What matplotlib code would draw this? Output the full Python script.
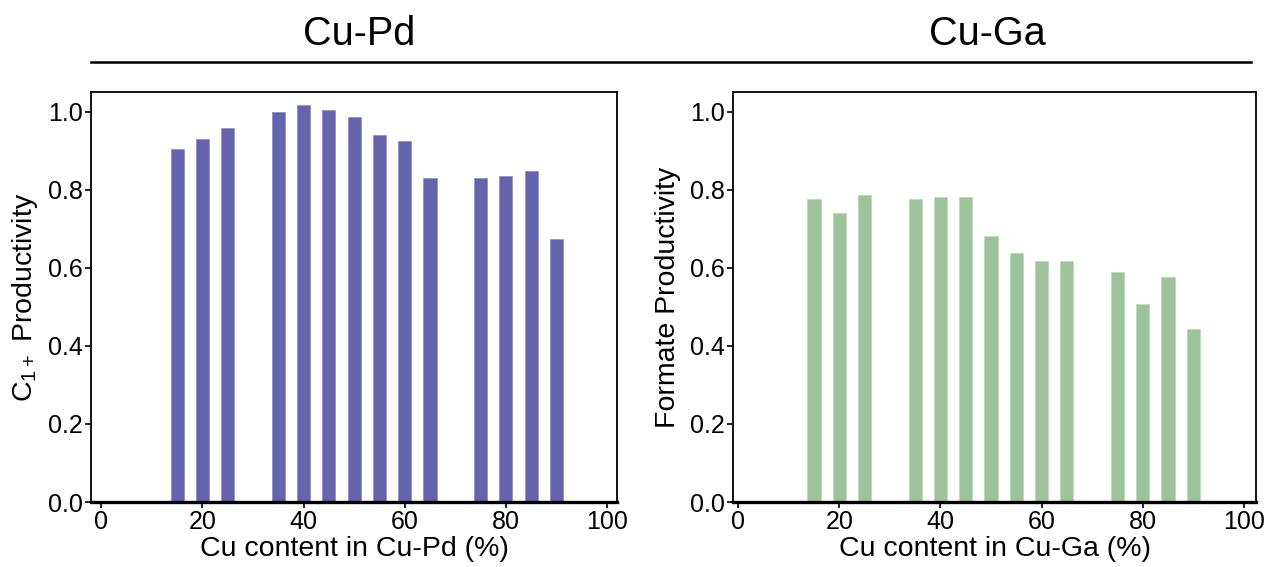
import matplotlib
matplotlib.use("Agg")
import matplotlib.pyplot as plt
from matplotlib.lines import Line2D

plt.rcParams['font.family'] = ['Liberation Sans', 'DejaVu Sans']
plt.rcParams['mathtext.default'] = 'regular'

cu_content = [15, 20, 25, 35, 40, 45, 50, 55, 60, 65, 75, 80, 85, 90]
cupd_c1 = [0.905, 0.929, 0.957, 0.998, 1.018, 1.005, 0.985, 0.941, 0.924,
           0.830, 0.830, 0.835, 0.849, 0.673]
cuga_formate = [0.777, 0.739, 0.787, 0.777, 0.780, 0.782, 0.681, 0.637,
                0.617, 0.617, 0.590, 0.507, 0.577, 0.444]

purple = "#6563AC"
green = "#9DC39B"

fig = plt.figure(figsize=(12.66, 5.67), dpi=100)

ax1 = fig.add_axes([0.0720, 0.1146, 0.4155, 0.7231])
ax2 = fig.add_axes([0.579, 0.1146, 0.4131, 0.7231])

panels = [
    (ax1, cupd_c1, purple, "#9391C8", "C$_{1+}$ Productivity", "Cu content in Cu-Pd (%)", (-2, 102)),
    (ax2, cuga_formate, green, "#BDD9BB", "Formate Productivity", "Cu content in Cu-Ga (%)", (-1, 102.4)),
]

for ax, vals, col, edge, ylab, xlab, xl in panels:
    ax.bar(cu_content, vals, width=2.6, color=col, edgecolor=edge, linewidth=0.6)
    ax.set_xlim(*xl)
    ax.set_ylim(0, 1.05)
    ax.set_xticks([0, 20, 40, 60, 80, 100])
    ax.set_yticks([0.0, 0.2, 0.4, 0.6, 0.8, 1.0])
    ax.set_xlabel(xlab, fontsize=20.5, labelpad=1)
    ax.set_ylabel(ylab, fontsize=20.5, labelpad=6)
    ax.tick_params(labelsize=18, length=4, width=1.2, direction="out", pad=2)
    for s in ax.spines.values():
        s.set_linewidth(1.3)
    ax.spines["bottom"].set_linewidth(2.4)

fig.text(0.284, 0.94, "Cu-Pd", fontsize=28.5, ha="center", va="center")
fig.text(0.780, 0.94, "Cu-Ga", fontsize=28.5, ha="center", va="center")
fig.add_artist(Line2D([0.072, 0.988], [0.891, 0.891], color="black", linewidth=1.8,
                      transform=fig.transFigure))

fig.savefig("out.png", dpi=100)
